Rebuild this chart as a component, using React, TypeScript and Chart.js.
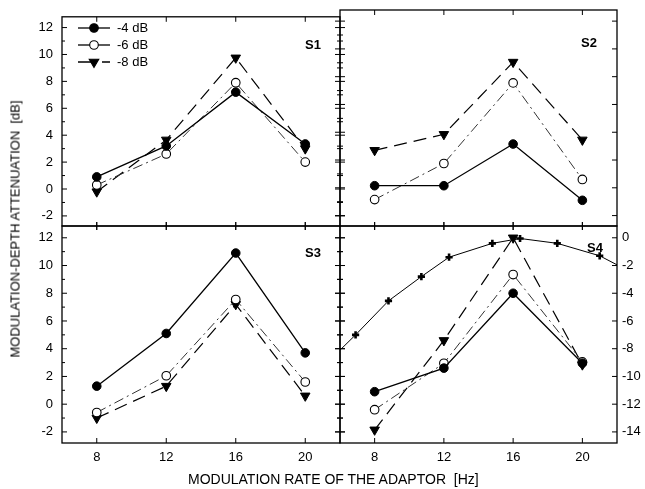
import React, { useEffect, useRef } from 'react';
import { Chart, registerables } from 'chart.js';

Chart.register(...registerables);

// ---------- data ----------
const rates = [8, 12, 16, 20];
const xTicks = [8, 12, 16, 20];
const leftTicks = [-2, 0, 2, 4, 6, 8, 10, 12];
const rightTicks = [0, -2, -4, -6, -8, -10, -12, -14];
const seriesLabels = ['-4 dB', '-6 dB', '-8 dB'];
const panelLabels = ['S1', 'S2', 'S3', 'S4'];

const s1m4 = [0.9, 3.2, 7.2, 3.35];
const s1m6 = [0.3, 2.6, 7.9, 2.0];
const s1m8 = [-0.2, 3.65, 9.75, 3.0];

const s2m4 = [0.15, 0.15, 3.15, -0.9];
const s2m6 = [-0.85, 1.75, 7.55, 0.6];
const s2m8 = [2.7, 3.85, 9.05, 3.45];

const s3m4 = [1.3, 5.1, 10.9, 3.7];
const s3m6 = [-0.6, 2.05, 7.55, 1.6];
const s3m8 = [-1.0, 1.3, 7.2, 0.6];

const s4m4 = [0.9, 2.6, 8.0, 2.95];
const s4m6 = [-0.4, 2.95, 9.35, 3.05];
const s4m8 = [-1.85, 4.6, 12.0, 2.85];

// S4 reference curve (right axis)
const s4CurveX = [6, 6.9, 8.8, 10.7, 12.3, 14.8, 16.4, 18.55, 21.0, 22];
const s4CurveY = [-8.1, -7.0, -4.55, -2.8, -1.4, -0.4, -0.05, -0.4, -1.3, -1.95];
const s4CurveMarked = [false, true, true, true, true, true, true, true, true, false];

const FONT = '"Liberation Sans", Arial, Helvetica, sans-serif';

// ---------- helpers ----------
function buildDatasets(m4: number[], m6: number[], m8: number[]): any[] {
  return [
    {
      label: seriesLabels[0],
      data: rates.map((x, i) => ({ x, y: m4[i] })),
      borderColor: '#000',
      borderWidth: 1.3,
      pointStyle: 'circle',
      pointRadius: 4.3,
      pointBackgroundColor: '#000',
      pointBorderColor: '#000',
      pointBorderWidth: 1,
    },
    {
      label: seriesLabels[1],
      data: rates.map((x, i) => ({ x, y: m6[i] })),
      borderColor: '#333',
      borderWidth: 1,
      borderDash: [10, 4, 2, 4],
      pointStyle: 'circle',
      pointRadius: 4.3,
      pointBackgroundColor: '#fff',
      pointBorderColor: '#000',
      pointBorderWidth: 1.1,
    },
    {
      label: seriesLabels[2],
      data: rates.map((x, i) => ({ x, y: m8[i] })),
      borderColor: '#000',
      borderWidth: 1.2,
      borderDash: [13, 7],
      pointStyle: 'triangle',
      pointRotation: 180,
      pointRadius: 5.5,
      pointBackgroundColor: '#000',
      pointBorderColor: '#000',
      pointBorderWidth: 1,
    },
  ];
}

const drawMarker = (ctx: CanvasRenderingContext2D, kind: number, x: number, y: number) => {
  ctx.save();
  ctx.setLineDash([]);
  ctx.lineWidth = 1.1;
  ctx.strokeStyle = '#000';
  ctx.beginPath();
  if (kind === 2) {
    const r = 5.5;
    for (let k = 0; k < 3; k++) {
      const ang = Math.PI + (k * 2 * Math.PI) / 3;
      const px = x + Math.sin(ang) * r;
      const py = y - Math.cos(ang) * r;
      if (k === 0) ctx.moveTo(px, py);
      else ctx.lineTo(px, py);
    }
    ctx.closePath();
    ctx.fillStyle = '#000';
  } else {
    ctx.arc(x, y, 4.3, 0, Math.PI * 2);
    ctx.fillStyle = kind === 0 ? '#000' : '#fff';
  }
  ctx.fill();
  ctx.stroke();
  ctx.restore();
};

const decorPlugin = {
  id: 'panelDecor',
  afterDraw(chart: any, _args: any, opts: any) {
    if (!opts || !opts.edges) return;
    const { ctx, chartArea: a } = chart;
    const xs = chart.scales.x;
    ctx.save();
    ctx.setLineDash([]);
    ctx.strokeStyle = '#000';
    ctx.lineWidth = 1.3;
    ctx.strokeRect(a.left, a.top, a.right - a.left, a.bottom - a.top);
    ctx.lineWidth = 1;

    const hTicks = (y: number, mode: string, dir: number) => {
      xTicks.forEach((v) => {
        const px = xs.getPixelForValue(v);
        ctx.beginPath();
        if (mode === 'in') {
          ctx.moveTo(px, y);
          ctx.lineTo(px, y + dir * 5);
        } else {
          ctx.moveTo(px, y - 4);
          ctx.lineTo(px, y + 4);
        }
        ctx.stroke();
      });
    };
    const vTicks = (x: number, spec: any, dir: number) => {
      const sc = chart.scales[spec.scale];
      for (let v = Math.ceil(sc.min); v <= Math.floor(sc.max); v++) {
        const major = Math.abs(v % 2) === 0;
        if (!major && !spec.minor) continue;
        const len = major ? 5 : 3;
        const py = sc.getPixelForValue(v);
        ctx.beginPath();
        if (spec.mode === 'in') {
          ctx.moveTo(x, py);
          ctx.lineTo(x + dir * len, py);
        } else {
          ctx.moveTo(x - len, py);
          ctx.lineTo(x + len, py);
        }
        ctx.stroke();
      }
    };
    const e = opts.edges;
    hTicks(a.top, e.top, 1);
    hTicks(a.bottom, e.bottom, -1);
    vTicks(a.left, e.left, 1);
    vTicks(a.right, e.right, -1);

    if (opts.label) {
      ctx.fillStyle = '#000';
      ctx.font = `bold 13px ${FONT}`;
      ctx.textAlign = 'right';
      ctx.textBaseline = 'middle';
      ctx.fillText(opts.label, a.right - opts.lx, a.top + opts.ly);
    }

    if (opts.legend) {
      const rows = [28, 45, 62];
      ctx.font = `13px ${FONT}`;
      ctx.textAlign = 'left';
      ctx.textBaseline = 'middle';
      rows.forEach((ry, i) => {
        ctx.save();
        ctx.strokeStyle = '#000';
        ctx.lineWidth = 1.3;
        ctx.beginPath();
        if (i === 2) {
          ctx.moveTo(78, ry);
          ctx.lineTo(94, ry);
          ctx.moveTo(102, ry);
          ctx.lineTo(110, ry);
        } else {
          ctx.moveTo(78, ry);
          ctx.lineTo(110, ry);
        }
        ctx.stroke();
        ctx.restore();
        drawMarker(ctx, i, 94, ry);
        ctx.fillStyle = '#000';
        ctx.fillText(seriesLabels[i], 117, ry);
      });
    }
    ctx.restore();
  },
};

const tickFont = { family: FONT, size: 13 };

function xScale(display: boolean): any {
  const s: any = {
    type: 'linear',
    min: 6,
    max: 22,
    display,
    grid: { display: false, drawTicks: false },
    border: { display: false },
    ticks: { padding: 7, font: tickFont, color: '#000', maxRotation: 0, autoSkip: false },
    afterBuildTicks: (sc: any) => {
      sc.ticks = xTicks.map((v) => ({ value: v }));
    },
  };
  if (display) s.afterFit = (sc: any) => { sc.height = 46; };
  return s;
}

function yScale(display: boolean, min: number, max: number): any {
  const s: any = {
    type: 'linear',
    position: 'left',
    min,
    max,
    display,
    grid: { display: false, drawTicks: false },
    border: { display: false },
    ticks: { padding: 9, font: tickFont, color: '#000', autoSkip: false },
    afterBuildTicks: (sc: any) => {
      sc.ticks = leftTicks.map((v) => ({ value: v }));
    },
  };
  if (display) s.afterFit = (sc: any) => { sc.width = 62; };
  return s;
}

function rightScale(min: number, max: number): any {
  return {
    type: 'linear',
    position: 'right',
    min,
    max,
    display: true,
    grid: { display: false, drawTicks: false },
    border: { display: false },
    ticks: { padding: 5, font: tickFont, color: '#000', autoSkip: false },
    afterBuildTicks: (sc: any) => {
      sc.ticks = rightTicks.map((v) => ({ value: v }));
    },
    afterFit: (sc: any) => { sc.width = 28; },
  };
}

const UP_MIN = -2.75, UP_MAX = 12.8;
const LO_MIN = -2.8, LO_MAX = 12.85;

function makeConfig(datasets: any[], scales: any, padding: any, decor: any): any {
  return {
    type: 'line',
    data: { datasets },
    options: {
      animation: false,
      responsive: false,
      maintainAspectRatio: false,
      layout: { padding },
      scales,
      plugins: {
        legend: { display: false },
        tooltip: { enabled: false },
        panelDecor: decor,
      },
      elements: { line: { tension: 0 } },
    },
    plugins: [decorPlugin],
  };
}

export default function App() {
  const r1 = useRef<HTMLCanvasElement>(null);
  const r2 = useRef<HTMLCanvasElement>(null);
  const r3 = useRef<HTMLCanvasElement>(null);
  const r4 = useRef<HTMLCanvasElement>(null);

  useEffect(() => {
    const charts: Chart[] = [];
    const s4curve = {
      label: 'curve',
      yAxisID: 'yR',
      data: s4CurveX.map((x, i) => ({ x, y: s4CurveY[i] })),
      borderColor: '#000',
      borderWidth: 1,
      pointStyle: 'cross',
      pointRadius: s4CurveMarked.map((m) => (m ? 3.6 : 0)),
      pointBorderWidth: 2.6,
      pointBorderColor: '#000',
      pointBackgroundColor: '#000',
    };

    charts.push(new Chart(r1.current!, makeConfig(
      buildDatasets(s1m4, s1m6, s1m8),
      { x: xScale(false), y: yScale(true, UP_MIN, UP_MAX) },
      { top: 10, bottom: 20, left: 0, right: 20 },
      {
        edges: { top: 'in', bottom: 'both', left: { scale: 'y', mode: 'in', minor: true }, right: { scale: 'y', mode: 'both', minor: true } },
        label: panelLabels[0], lx: 19, ly: 29, legend: true,
      },
    )));
    charts.push(new Chart(r2.current!, makeConfig(
      buildDatasets(s2m4, s2m6, s2m8),
      { x: xScale(false), y: yScale(false, UP_MIN, UP_MAX) },
      { top: 10, bottom: 20, left: 20, right: 28 },
      {
        edges: { top: 'in', bottom: 'both', left: { scale: 'y', mode: 'both', minor: true }, right: { scale: 'y', mode: 'in', minor: false } },
        label: panelLabels[1], lx: 20, ly: 33,
      },
    )));
    charts.push(new Chart(r3.current!, makeConfig(
      buildDatasets(s3m4, s3m6, s3m8),
      { x: xScale(true), y: yScale(true, LO_MIN, LO_MAX) },
      { top: 20, bottom: 0, left: 0, right: 20 },
      {
        edges: { top: 'both', bottom: 'in', left: { scale: 'y', mode: 'in', minor: true }, right: { scale: 'y', mode: 'both', minor: true } },
        label: panelLabels[2], lx: 19, ly: 27,
      },
    )));
    charts.push(new Chart(r4.current!, makeConfig(
      [...buildDatasets(s4m4, s4m6, s4m8), s4curve],
      { x: xScale(true), y: yScale(false, LO_MIN, LO_MAX), yR: rightScale(LO_MIN - 12, LO_MAX - 12) },
      { top: 20, bottom: 0, left: 20, right: 0 },
      {
        edges: { top: 'both', bottom: 'in', left: { scale: 'y', mode: 'both', minor: true }, right: { scale: 'yR', mode: 'in', minor: false } },
        label: panelLabels[3], lx: 14, ly: 22,
      },
    )));
    return () => charts.forEach((c) => c.destroy());
  }, []);

  const cv = (left: number, top: number, w: number, h: number): React.CSSProperties => ({
    position: 'absolute', left, top, width: w, height: h,
  });

  return (
    <div style={{ position: 'absolute', left: 0, top: 0, width: 645, height: 489, background: '#fff', overflow: 'hidden', fontFamily: FONT, color: '#000' }}>
      <canvas ref={r1} width={360} height={246} style={cv(0, 0, 360, 246)} />
      <canvas ref={r2} width={325} height={246} style={cv(320, 0, 325, 246)} />
      <canvas ref={r3} width={360} height={283} style={cv(0, 206, 360, 283)} />
      <canvas ref={r4} width={325} height={283} style={cv(320, 206, 325, 283)} />
      <div style={{ position: 'absolute', left: 15, top: 229, transform: 'translate(-50%, -50%) rotate(-90deg)', whiteSpace: 'pre', fontSize: 13, lineHeight: '15px' }}>
        {'MODULATION-DEPTH ATTENUATION  [dB]'}
      </div>
      <div style={{ position: 'absolute', left: 188, top: 471, whiteSpace: 'pre', fontSize: 14, lineHeight: '16px' }}>
        {'MODULATION RATE OF THE ADAPTOR  [Hz]'}
      </div>
    </div>
  );
}
